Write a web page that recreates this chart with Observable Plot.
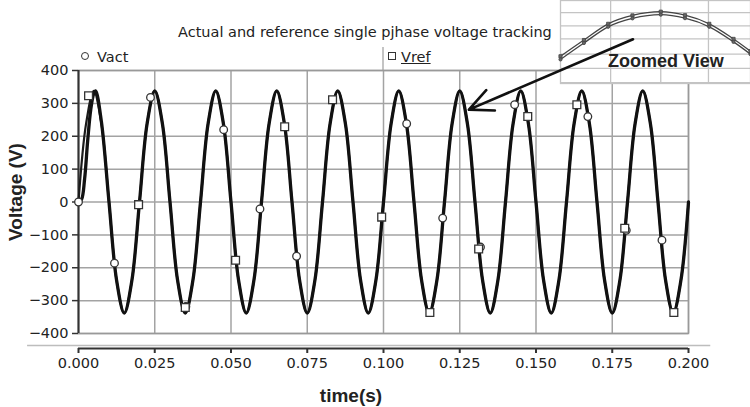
<!DOCTYPE html>
<html><head><meta charset="utf-8">
<script src="https://cdn.jsdelivr.net/npm/d3@7"></script>
<script src="https://cdn.jsdelivr.net/npm/@observablehq/plot@0.6"></script>
<style>
body{margin:0;background:#fff;}
#wrap{position:relative;width:750px;height:407px;overflow:hidden;font-family:"DejaVu Sans",sans-serif;color:#222;}
#wrap > *{position:absolute;}
.t{white-space:nowrap;line-height:1;}
</style></head><body><div id="wrap"></div>
<script>
// ---- data ----
const timeTicks = [0, 0.025, 0.05, 0.075, 0.1, 0.125, 0.15, 0.175, 0.2];
const voltTicks = [-400, -300, -200, -100, 0, 100, 200, 300, 400];

// reference voltage, sampled every 2.5 ms
const refTime = d3.range(81).map(i => +(i * 0.0025).toFixed(4));
const refVolts = [
  0, 239, 338, 239, 0, -239, -338, -239,
  0, 239, 338, 239, 0, -239, -338, -239,
  0, 239, 338, 239, 0, -239, -338, -239,
  0, 239, 338, 239, 0, -239, -338, -239,
  0, 239, 338, 239, 0, -239, -338, -239,
  0, 239, 338, 239, 0, -239, -338, -239,
  0, 239, 338, 239, 0, -239, -338, -239,
  0, 239, 338, 239, 0, -239, -338, -239,
  0, 239, 338, 239, 0, -239, -338, -239,
  0, 239, 338, 239, 0, -239, -338, -239,
  0
];
// actual voltage: delayed start, then tracks the reference
const actTime = [0, 0.001, 0.002, 0.003, 0.004, 0.005, 0.0056, 0.0075, 0.01].concat(refTime.slice(5));
const actVolts = [0, 8, 70, 185, 280, 330, 338, 245, 0].concat(refVolts.slice(5));

// marker positions
const actMarkT = [0, 0.0118, 0.0236, 0.0352, 0.0476, 0.0595, 0.0715, 0.1076, 0.1194, 0.1318, 0.143, 0.167, 0.1796, 0.1913];
const actMarkV = [0, -186, 318, -318, 220, -21, -165, 238, -49, -137, 296, 260, -86, -116];
const refMarkT = [0.0033, 0.0197, 0.035, 0.0515, 0.0676, 0.0833, 0.0994, 0.1152, 0.1312, 0.1473, 0.1634, 0.1791, 0.1952];
const refMarkV = [323, -8, -321, -177, 229, 311, -46, -336, -143, 260, 296, -80, -336];

// zoomed view around the 0.125 s peak
const zoomTime = [0.12376, 0.12405, 0.12435, 0.12465, 0.125, 0.1253, 0.1256, 0.1259, 0.12611];
const zoomRefVolts = [315.1, 323.8, 332.5, 337.0, 339.0, 337.1, 332.5, 324.4, 317.8];
const zoomActVolts = [313.4, 322.2, 330.9, 335.4, 337.4, 335.5, 330.9, 322.8, 316.2];
const zoomGridT = [0.12438, 0.125, 0.12559];
const zoomGridV = [301, 308.6, 316.2, 324.4, 331.4, 338.5];

// arrow annotation (data units)
const arrowData = [{t1: 0.1818, v1: 495, t2: 0.128, v2: 281}];

// ---- build ----
const wrap = document.getElementById("wrap");
const zip = (a, b) => a.map((x, i) => ({t: x, v: b[i]}));
const frameOpts = {
  width: 750, height: 407,
  marginLeft: 78, marginRight: 62, marginTop: 70, marginBottom: 74
};
const grid = "#a3a3a3";

const main = Plot.plot({
  ...frameOpts,
  style: {background: "transparent", fontFamily: "DejaVu Sans, sans-serif", fontSize: "14.5px", color: "#222", overflow: "visible"},
  x: {domain: [0, 0.2], label: null},
  y: {domain: [-400, 400], label: null},
  marks: [
    Plot.gridX(timeTicks, {stroke: grid, strokeOpacity: 1, strokeWidth: 1.5}),
    Plot.gridY(voltTicks, {stroke: grid, strokeOpacity: 1, strokeWidth: 1.5}),
    Plot.frame({stroke: "#999", strokeWidth: 1.5}),
    Plot.ruleY([-400], {x1: -0.0167, x2: 0.2073, dy: 12, stroke: "#bdbdbd", strokeWidth: 1.5}),
    Plot.ruleY([-400], {x1: 0, x2: 0.2, dy: 15, stroke: "#333", strokeWidth: 2}),
    Plot.axisX(timeTicks, {dy: 15, tickSize: 5, tickPadding: 4, tickFormat: d3.format(".3f"), label: null, stroke: "#333", strokeWidth: 2, fill: "#222"}),
    Plot.ruleX([0], {y1: -400, y2: 400, stroke: "#333", strokeWidth: 2}),
    Plot.axisY(voltTicks, {tickSize: 6, tickPadding: 4, label: null, stroke: "#333", strokeWidth: 1.5, fill: "#222"}),
    Plot.line(zip(refTime, refVolts), {x: "t", y: "v", curve: "catmull-rom", stroke: "#1a1a1a", strokeWidth: 2.2}),
    Plot.line(zip(actTime, actVolts), {x: "t", y: "v", curve: "catmull-rom", stroke: "#111", strokeWidth: 3.3}),
    Plot.dot(zip(actMarkT, actMarkV), {x: "t", y: "v", r: 3.8, symbol: "circle", fill: "white", stroke: "#333", strokeWidth: 1.3}),
    Plot.dot(zip(refMarkT, refMarkV), {x: "t", y: "v", r: 4.4, symbol: "square", fill: "white", stroke: "#333", strokeWidth: 1.3})
  ]
});
main.style.left = "0px"; main.style.top = "0px"; main.style.zIndex = 1;
wrap.appendChild(main);

// zoomed view inset
const inset = Plot.plot({
  width: 190, height: 83, marginLeft: 0, marginRight: 0, marginTop: 0, marginBottom: 0,
  style: {background: "white", overflow: "visible"},
  x: {domain: [0.12376, 0.12611], axis: null},
  y: {domain: [300.5, 345], axis: null},
  marks: [
    Plot.gridX(zoomGridT, {stroke: "#c4c4c4", strokeOpacity: 1, strokeWidth: 1.3}),
    Plot.gridY(zoomGridV, {stroke: "#c4c4c4", strokeOpacity: 1, strokeWidth: 1.3}),
    Plot.frame({stroke: "#c4c4c4", strokeWidth: 1.3}),
    Plot.line(zip(zoomTime, zoomRefVolts), {x: "t", y: "v", curve: "catmull-rom", stroke: "#444", strokeWidth: 1.3}),
    Plot.line(zip(zoomTime, zoomActVolts), {x: "t", y: "v", curve: "catmull-rom", stroke: "#444", strokeWidth: 1.3}),
    Plot.dot(zip(zoomTime, zoomRefVolts), {x: "t", y: "v", r: 1.8, symbol: "square", fill: "#666", stroke: "#444", strokeWidth: 0.8}),
    Plot.dot(zip(zoomTime, zoomActVolts), {x: "t", y: "v", r: 1.6, fill: "#666", stroke: "#444", strokeWidth: 0.8})
  ]
});
inset.style.left = "560px"; inset.style.top = "0px"; inset.style.zIndex = 2;
wrap.appendChild(inset);

// arrow overlay (same scales as main)
const arrowLayer = Plot.plot({
  ...frameOpts,
  style: {background: "transparent", overflow: "visible"},
  x: {domain: [0, 0.2], axis: null},
  y: {domain: [-400, 400], axis: null},
  marks: [
    Plot.arrow(arrowData, {x1: "t1", y1: "v1", x2: "t2", y2: "v2", stroke: "#111", strokeWidth: 2.6, headLength: 15, headAngle: 50})
  ]
});
arrowLayer.style.left = "0px"; arrowLayer.style.top = "0px"; arrowLayer.style.zIndex = 3;
arrowLayer.style.pointerEvents = "none";
wrap.appendChild(arrowLayer);

// texts
function addText(txt, css) {
  const d = document.createElement("div");
  d.className = "t";
  d.textContent = txt;
  Object.assign(d.style, css);
  wrap.appendChild(d);
  return d;
}
addText("Actual and reference single pjhase voltage tracking", {left: "178px", top: "25px", fontSize: "14.5px", zIndex: 5});
addText("Vact", {left: "97px", top: "50px", fontSize: "14.5px", zIndex: 5});
addText("Vref", {left: "401px", top: "50px", fontSize: "14.5px", textDecoration: "underline", zIndex: 5});
addText("Zoomed View", {left: "608px", top: "52px", fontSize: "18px", fontWeight: "bold", fontFamily: "Liberation Sans, Arial, sans-serif", color: "#222", zIndex: 5});
addText("time(s)", {left: "351px", top: "386px", fontSize: "19px", fontWeight: "bold", fontFamily: "Liberation Sans, Arial, sans-serif", transform: "translateX(-50%)", zIndex: 5});
addText("Voltage (V)", {left: "15px", top: "192px", fontSize: "19px", fontWeight: "bold", fontFamily: "Liberation Sans, Arial, sans-serif", transform: "translate(-50%,-50%) rotate(-90deg)", zIndex: 5});

// legend symbols and separator
function addBox(css) {
  const d = document.createElement("div");
  Object.assign(d.style, css);
  wrap.appendChild(d);
}
addBox({left: "81px", top: "52px", width: "6px", height: "6px", border: "1.3px solid #333", borderRadius: "50%", zIndex: 5});
addBox({left: "388px", top: "52px", width: "6px", height: "6px", border: "1.3px solid #333", zIndex: 5});
addBox({left: "382px", top: "47px", width: "1.5px", height: "23px", background: "#c4c4c4", zIndex: 0});
</script></body></html>
